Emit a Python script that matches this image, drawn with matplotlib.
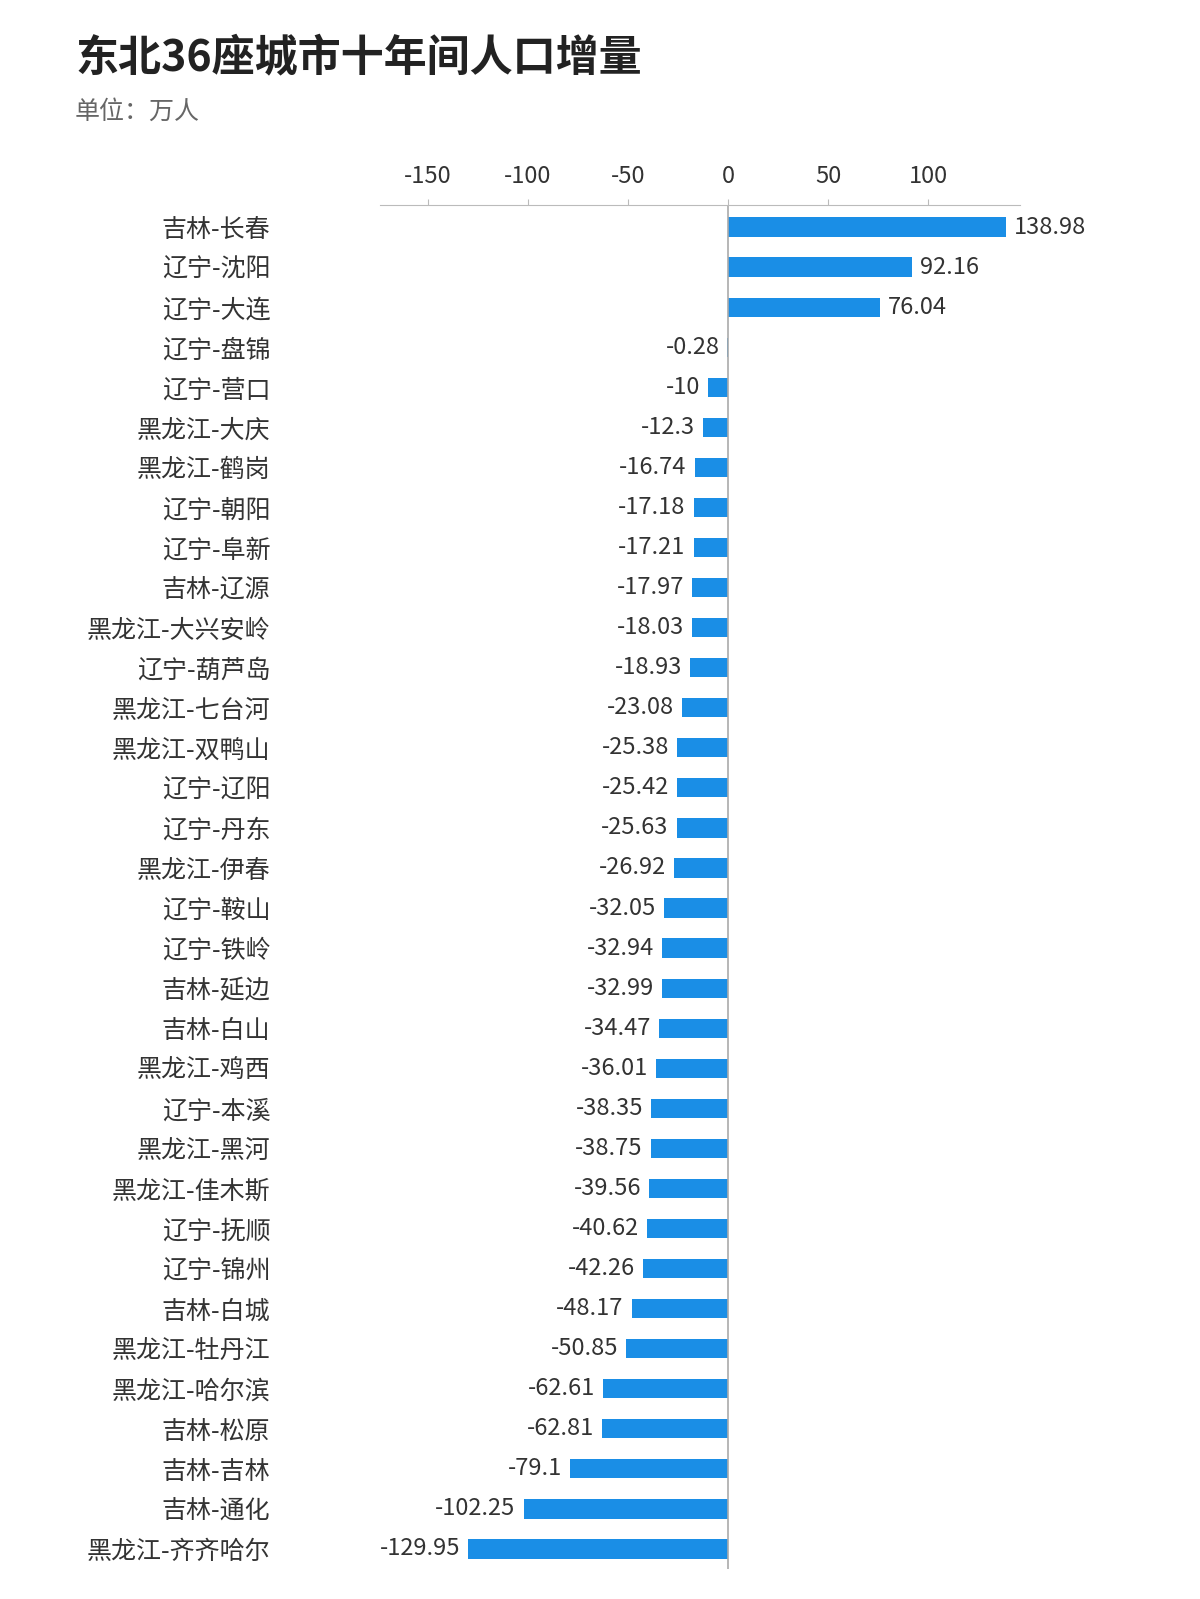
import matplotlib
matplotlib.use("Agg")
import matplotlib.pyplot as plt

plt.rcParams['font.family'] = ['Noto Sans CJK SC', 'DejaVu Sans']

cities = ["吉林-长春","辽宁-沈阳","辽宁-大连","辽宁-盘锦","辽宁-营口","黑龙江-大庆","黑龙江-鹤岗","辽宁-朝阳","辽宁-阜新","吉林-辽源",
          "黑龙江-大兴安岭","辽宁-葫芦岛","黑龙江-七台河","黑龙江-双鸭山","辽宁-辽阳","辽宁-丹东","黑龙江-伊春","辽宁-鞍山","辽宁-铁岭","吉林-延边",
          "吉林-白山","黑龙江-鸡西","辽宁-本溪","黑龙江-黑河","黑龙江-佳木斯","辽宁-抚顺","辽宁-锦州","吉林-白城","黑龙江-牡丹江","黑龙江-哈尔滨",
          "吉林-松原","吉林-吉林","吉林-通化","黑龙江-齐齐哈尔"]
values = [138.98,92.16,76.04,-0.28,-10,-12.3,-16.74,-17.18,-17.21,-17.97,
          -18.03,-18.93,-23.08,-25.38,-25.42,-25.63,-26.92,-32.05,-32.94,-32.99,
          -34.47,-36.01,-38.35,-38.75,-39.56,-40.62,-42.26,-48.17,-50.85,-62.61,
          -62.81,-79.1,-102.25,-129.95]
labels = ["138.98","92.16","76.04","-0.28","-10","-12.3","-16.74","-17.18","-17.21","-17.97",
          "-18.03","-18.93","-23.08","-25.38","-25.42","-25.63","-26.92","-32.05","-32.94","-32.99",
          "-34.47","-36.01","-38.35","-38.75","-39.56","-40.62","-42.26","-48.17","-50.85","-62.61",
          "-62.81","-79.1","-102.25","-129.95"]
ticks = [-150,-100,-50,0,50,100]

fig = plt.figure(figsize=(12,15.99), dpi=100)
n = len(cities)
top = 1-205/1599
bottom = 1-(1547+22)/1599
ax = fig.add_axes([380/1200, bottom, 640/1200, top-bottom])
y = list(range(n))
ax.barh(y, values, height=0.48, color='#1a8ee6')
ax.set_ylim(n-0.5, -0.55)
ax.set_xlim(-174, 146)
for yi, v, l in zip(y, values, labels):
    if v >= 0:
        ax.text(v+4, yi, l, va='center', ha='left', fontsize=17, color='#333333')
    else:
        ax.text(v-4, yi, l, va='center', ha='right', fontsize=17, color='#333333')
ax.set_yticks(y)
ax.set_yticklabels(cities, fontsize=18, color='#333333')
ax.tick_params(axis='y', length=0, pad=79)
ax.xaxis.tick_top()
ax.set_xticks(ticks)
ax.set_xticklabels([str(t) for t in ticks], fontsize=17, color='#333333')
ax.tick_params(axis='x', length=4, color='#bbbbbb', pad=8)
for s in ['left','right','bottom']:
    ax.spines[s].set_visible(False)
ax.spines['top'].set_color('#bbbbbb')
ax.axvline(0, color='#aaaaaa', lw=1.2)

fig.text(75/1200, 1-57/1599, "东北36座城市十年间人口增量", fontsize=31, fontweight='bold', va='center', color='#222222')
fig.text(75/1200, 1-112/1599, "单位：万人", fontsize=18, va='center', color='#666666')
fig.savefig("out.png", dpi=100)
